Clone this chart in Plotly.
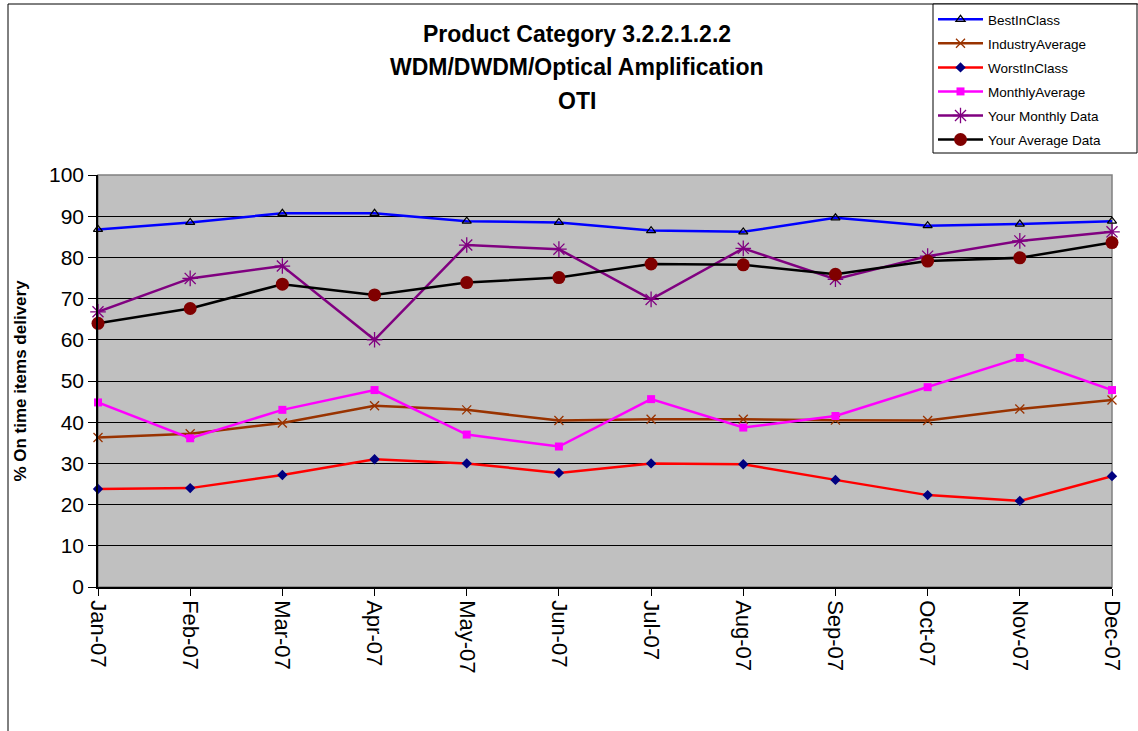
import plotly.graph_objects as go

months = ["Jan-07", "Feb-07", "Mar-07", "Apr-07", "May-07", "Jun-07",
          "Jul-07", "Aug-07", "Sep-07", "Oct-07", "Nov-07", "Dec-07"]

best_in_class = [86.8, 88.5, 90.7, 90.7, 88.8, 88.5, 86.5, 86.2, 89.6, 87.7, 88.1, 88.8]
industry_average = [36.3, 37.2, 39.8, 44.0, 43.0, 40.4, 40.7, 40.7, 40.5, 40.4, 43.2, 45.4]
worst_in_class = [23.8, 24.0, 27.2, 31.0, 30.0, 27.7, 30.0, 29.8, 26.0, 22.3, 20.9, 26.9]
monthly_average = [44.8, 36.1, 43.0, 47.8, 37.0, 34.1, 45.6, 38.7, 41.5, 48.5, 55.6, 47.8]
your_monthly = [66.8, 74.9, 77.9, 60.0, 83.0, 82.0, 69.8, 82.2, 74.7, 80.3, 84.0, 86.2]
your_average = [64.0, 67.6, 73.5, 70.9, 73.9, 75.1, 78.4, 78.2, 75.9, 79.1, 79.9, 83.6]

FONT = "Arial, Liberation Sans, sans-serif"

W, H = 1138, 731
PLOT_L, PLOT_R, PLOT_T, PLOT_B = 98, 1112, 175, 587
L, T, R, B = PLOT_L, PLOT_T, W - PLOT_R, H - PLOT_B
PW, PH = PLOT_R - PLOT_L, PLOT_B - PLOT_T


def px_x(px):
    return (px - PLOT_L) / PW


def px_y(py):
    return (PLOT_B - py) / PH


series = [
    dict(name="BestInClass", y=best_in_class, line="#0000FF",
         marker=dict(symbol="triangle-up-open", size=8, color="#000000",
                     line=dict(color="#000000", width=1.2))),
    dict(name="IndustryAverage", y=industry_average, line="#993300",
         marker=dict(symbol="x-thin-open", size=9, color="#993300",
                     line=dict(color="#993300", width=1.3))),
    dict(name="WorstInClass", y=worst_in_class, line="#FF0000",
         marker=dict(symbol="diamond", size=8, color="#000080",
                     line=dict(width=0))),
    dict(name="MonthlyAverage", y=monthly_average, line="#FF00FF",
         marker=dict(symbol="square", size=8, color="#FF00FF",
                     line=dict(width=0))),
    dict(name="Your Monthly Data", y=your_monthly, line="#800080",
         marker=dict(symbol="asterisk-open", size=13, color="#800080",
                     line=dict(color="#800080", width=1.3))),
    dict(name="Your Average Data", y=your_average, line="#000000",
         marker=dict(symbol="circle", size=13, color="#800000",
                     line=dict(width=0))),
]

fig = go.Figure()
for i, s in enumerate(series):
    fig.add_trace(go.Scatter(
        x=months, y=s["y"], name=s["name"], mode="lines+markers",
        line=dict(color=s["line"], width=2.5),
        marker=s["marker"], cliponaxis=False, legendgroup=f"g{i}",
    ))

titles = ["Product Category 3.2.2.1.2.2", "WDM/DWDM/Optical Amplification", "OTI"]
title_y = [34, 67, 101]
annotations = [
    dict(text=f"<b>{t}</b>", x=px_x(577), y=px_y(yy), xref="paper", yref="paper",
         xanchor="center", yanchor="middle", showarrow=False,
         font=dict(family=FONT, size=23, color="#000000"))
    for t, yy in zip(titles, title_y)
]

shapes = [
    # outer chart border
    dict(type="rect", xref="paper", yref="paper",
         x0=px_x(8), x1=px_x(1160), y0=px_y(760), y1=px_y(4),
         line=dict(color="#000000", width=1), fillcolor="rgba(0,0,0,0)", layer="below"),
    # plot area border (top/right gray)
    dict(type="rect", xref="paper", yref="paper", x0=0, x1=1, y0=0, y1=1,
         line=dict(color="#808080", width=1.5), fillcolor="rgba(0,0,0,0)", layer="below"),
    # legend box
    dict(type="rect", xref="paper", yref="paper",
         x0=px_x(933), x1=px_x(1137), y0=px_y(153), y1=px_y(4),
         line=dict(color="#000000", width=1), fillcolor="#FFFFFF", layer="above"),
]

fig.update_layout(
    width=W, height=H,
    margin=dict(l=L, r=R, t=T, b=B, pad=0, autoexpand=False),
    paper_bgcolor="#FFFFFF", plot_bgcolor="#C0C0C0",
    font=dict(family=FONT, color="#000000"),
    showlegend=True,
    legend=dict(
        xref="container", yref="container",
        x=933 / W, y=1 - 4 / H, xanchor="left", yanchor="top",
        bgcolor="rgba(0,0,0,0)", borderwidth=0,
        font=dict(family=FONT, size=13.5, color="#000000"),
        itemwidth=45, tracegroupgap=3.5, traceorder="grouped",
    ),
    annotations=annotations,
    shapes=shapes,
    xaxis=dict(
        type="category", range=[0, 11], automargin=False,
        showgrid=False, zeroline=False,
        showline=True, linecolor="#000000", linewidth=1.5,
        ticks="outside", ticklen=7, tickcolor="#000000", tickwidth=1,
        tickangle=90, tickfont=dict(family=FONT, size=22, color="#000000"),
    ),
    yaxis=dict(
        range=[0, 100], dtick=10, automargin=False,
        showgrid=True, gridcolor="#000000", gridwidth=1,
        zeroline=False,
        showline=True, linecolor="#000000", linewidth=1.5,
        ticks="outside", ticklen=8, tickcolor="#000000", tickwidth=1,
        tickfont=dict(family=FONT, size=21, color="#000000"),
        title=dict(text="<b>% On time items delivery</b>", standoff=18,
                   font=dict(family=FONT, size=17, color="#000000")),
    ),
)

# remove the default 8px page margin so the figure fills the window exactly
fig.write_html("out.html",
               config={"displayModeBar": False},
               post_script="document.body.style.margin='0';"
                           "document.body.style.overflow='hidden';")
